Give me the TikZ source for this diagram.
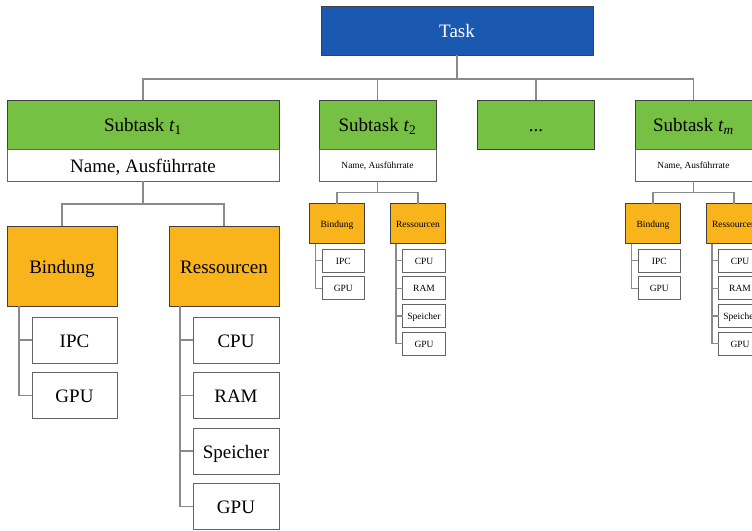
\documentclass[tikz,border=0pt]{standalone}
\usepackage{fontspec}
\setmainfont{Liberation Serif}
\usetikzlibrary{calc}

\definecolor{taskblue}{RGB}{27,88,176}
\definecolor{subgreen}{RGB}{118,193,67}
\definecolor{catorange}{RGB}{249,180,28}
\definecolor{boxline}{RGB}{64,64,64}
\definecolor{itemline}{RGB}{100,100,100}
\definecolor{connline}{RGB}{138,138,138}

\tikzset{
  base/.style={draw, line width=1pt, inner sep=0pt, outer sep=0pt, align=center,
    font=\fontsize{19}{22}\selectfont, text height=14.5pt, text depth=0.5pt},
  taskbox/.style={base, draw=boxline, fill=taskblue, text=white,
    minimum width=272pt, minimum height=49pt},
  subbox/.style={base, draw=boxline, fill=subgreen,
    minimum width=117pt, minimum height=49pt},
  namebox/.style={base, draw=itemline, fill=white,
    minimum width=117pt, minimum height=32pt},
  smalltext/.style={font=\fontsize{9.4}{11}\selectfont, text height=7.2pt, text depth=0.2pt},
  catbox/.style={base, draw=boxline, fill=catorange,
    minimum width=110pt, minimum height=80pt},
  itembox/.style={base, draw=itemline, fill=white,
    minimum width=86pt, minimum height=46pt},
  conn/.style={draw=connline, line width=1.4pt},
}

% #1: name prefix, #2: node the tree hangs from, #3: scale of the tree
\newcommand\detailtree[3]{%
  \begin{scope}[shift={(#2.south)}, scale=#3, transform shape]
    \coordinate (#1-fork) at (0,23);
    \node[catbox] (#1-bind) at (-81,85) {Bindung};
    \node[catbox] (#1-res)  at (81,85)  {Ressourcen};
    \coordinate (#1-bline) at (-124,125);
    \coordinate (#1-rline) at (37,125);
    \node[itembox, minimum width=85pt] (#1-ipc)  at (-68.5,159)   {IPC};
    \node[itembox, minimum width=85pt] (#1-bgpu) at (-68.5,214.5) {GPU};
    \node[itembox] (#1-cpu)  at (93,159)   {CPU};
    \node[itembox] (#1-ram)  at (93,214.5) {RAM};
    \node[itembox] (#1-mem)  at (93,270)   {Speicher};
    \node[itembox] (#1-rgpu) at (93,325.5) {GPU};
  \end{scope}
  \draw[conn] (#2.south) -- (#1-fork);
  \draw[conn] (#1-bind.north) |- (#1-fork) -| (#1-res.north);
  \draw[conn] (#1-bline) |- (#1-bgpu.west);
  \draw[conn] (#1-bline |- #1-ipc.west) -- (#1-ipc.west);
  \draw[conn] (#1-rline) |- (#1-rgpu.west);
  \draw[conn] (#1-rline |- #1-cpu.west) -- (#1-cpu.west);
  \draw[conn] (#1-rline |- #1-ram.west) -- (#1-ram.west);
  \draw[conn] (#1-rline |- #1-mem.west) -- (#1-mem.west);
}

\begin{document}
\begin{tikzpicture}[x=1pt, y=-1pt]
  \useasboundingbox (0,0) rectangle (752,530);
  \clip (0,0) rectangle (752,530);

  % top level
  \node[taskbox] (task) at (457,30.5) {Task};

  % subtasks
  \node[subbox, minimum width=272pt] (s1) at (143,124.5) {Subtask \textit{t}\textsubscript{1}};
  \node[namebox, minimum width=272pt] (s1-name) at (143,165) {Name, Ausführrate};
  \node[subbox] (s2) at (377.5,124.5) {Subtask \textit{t}\textsubscript{2}};
  \node[namebox, smalltext] (s2-name) at (377.5,165) {Name, Ausführrate};
  \node[subbox] (more) at (536,124.5) {...};
  \node[subbox] (sm) at (693.5,124.5) {Subtask \textit{t}\textsubscript{\textit{m}}};
  \node[namebox, smalltext] (sm-name) at (693.5,165) {Name, Ausführrate};

  % bus from the task to the subtasks
  \coordinate (bus) at (0,79);
  \draw[conn] (task.south) -- (task.south |- bus);
  \draw[conn] (s1.north) |- (bus -| sm.north) -- (sm.north);
  \draw[conn] (s2.north) -- (s2.north |- bus);
  \draw[conn] (more.north) -- (more.north |- bus);

  % bindings and resources of each subtask
  \detailtree{d1}{s1-name}{1}
  \detailtree{d2}{s2-name}{0.5}
  \detailtree{dm}{sm-name}{0.5}
\end{tikzpicture}
\end{document}
